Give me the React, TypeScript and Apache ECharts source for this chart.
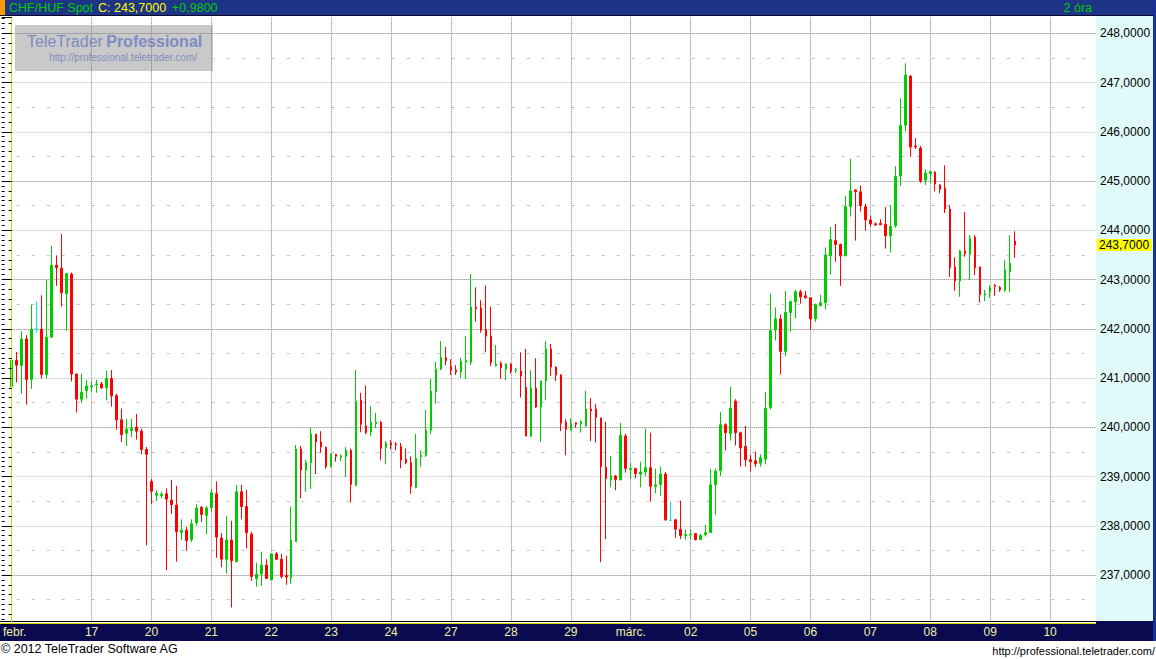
import React, { useEffect, useRef } from "react";
import * as echarts from "echarts";

// ---- data (2-hour candles, CHF/HUF spot) ----
const openPrices = [
  240.82, 241.36, 241.25, 241.79, 240.97, 242.0, 241.99, 241.07, 241.83, 243.29, 243.23, 242.71, 243.11, 241.08, 240.57, 240.74,
  240.82, 240.86, 240.88, 240.8, 240.99, 240.64, 240.15, 239.88, 239.93, 240.0, 239.92, 239.55, 238.9, 238.62, 238.61, 238.65,
  238.52, 238.42, 237.86, 237.91, 237.72, 238.06, 238.37, 238.21, 238.37, 238.65, 237.75, 237.32, 237.71, 237.27, 238.69, 238.39,
  237.83, 236.93, 237.02, 237.2, 236.9, 237.43, 237.32, 236.99, 236.94, 237.68, 239.56, 239.13, 239.28, 239.86, 239.7, 239.59,
  239.21, 239.45, 239.39, 239.41, 239.53, 238.82, 240.55, 240.03, 239.9, 240.07, 240.1, 239.59, 239.68, 239.66, 239.61, 239.35,
  239.28, 238.78, 239.4, 239.43, 239.94, 240.72, 241.18, 241.41, 241.23, 241.16, 241.12, 241.32, 241.32, 242.44, 242.42, 241.98,
  241.85, 241.25, 241.3, 241.18, 241.28, 241.15, 241.14, 240.81, 239.82, 240.79, 240.41, 240.94, 241.59, 241.22, 241.06, 240.1,
  239.94, 240.09, 240.07, 240.03, 240.37, 240.37, 240.19, 239.19, 238.93, 239.01, 238.93, 239.82, 239.14, 239.16, 239.05, 239.09,
  239.18, 238.8, 238.84, 239.05, 238.11, 238.12, 237.93, 237.8, 237.81, 237.84, 237.72, 237.82, 237.86, 238.83, 239.12, 240.05,
  239.87, 240.53, 239.89, 239.61, 239.34, 239.32, 239.27, 239.35, 240.4, 241.98, 242.2, 241.54, 242.33, 242.55, 242.75, 242.67,
  242.63, 242.2, 242.47, 242.53, 243.48, 243.79, 243.71, 243.48, 244.48, 244.82, 244.78, 244.48, 244.21, 244.13, 244.14, 244.12,
  243.89, 244.09, 245.1, 246.13, 247.13, 245.71, 245.67, 245.02, 245.15, 245.18, 244.92, 244.85, 244.43, 243.25, 242.97, 243.58,
  243.51, 243.86, 243.25, 242.69, 242.75, 242.88, 242.84, 242.78, 243.16, 243.78,
];
const closePrices = [
  241.36, 241.26, 241.79, 240.97, 241.99, 242.0, 241.07, 241.83, 243.29, 243.24, 242.73, 243.12, 241.08, 240.57, 240.71, 240.84,
  240.84, 240.88, 240.8, 240.99, 240.64, 240.15, 239.85, 239.96, 239.98, 239.92, 239.55, 239.45, 238.7, 238.66, 238.64, 238.54,
  238.43, 237.88, 237.91, 237.7, 238.04, 238.36, 238.23, 238.36, 238.67, 237.77, 237.32, 237.71, 237.29, 238.69, 238.39, 237.86,
  236.97, 237.02, 237.2, 236.93, 237.43, 237.32, 236.97, 236.96, 237.71, 239.56, 239.13, 239.28, 239.86, 239.7, 239.6, 239.2,
  239.45, 239.41, 239.42, 239.53, 238.84, 240.53, 240.06, 239.89, 240.1, 240.1, 239.57, 239.68, 239.64, 239.64, 239.33, 239.28,
  238.8, 239.37, 239.43, 239.94, 240.73, 241.18, 241.42, 241.35, 241.16, 241.12, 241.34, 241.36, 242.44, 242.41, 241.97, 241.85,
  241.31, 241.28, 241.21, 241.28, 241.14, 241.17, 241.04, 239.82, 240.79, 240.41, 240.94, 241.59, 241.22, 241.06, 240.08, 239.96,
  240.06, 240.06, 240.11, 240.37, 240.33, 240.2, 239.2, 238.96, 239.01, 238.94, 239.84, 239.16, 239.16, 239.06, 239.09, 239.18,
  238.8, 238.83, 239.05, 238.12, 238.11, 237.93, 237.8, 237.82, 237.82, 237.72, 237.8, 237.86, 238.83, 239.11, 240.05, 239.89,
  240.39, 239.89, 239.58, 239.34, 239.3, 239.26, 239.38, 240.38, 241.96, 242.2, 241.54, 242.33, 242.55, 242.75, 242.65, 242.63,
  242.2, 242.49, 242.53, 243.5, 243.81, 243.71, 243.48, 244.48, 244.8, 244.78, 244.5, 244.21, 244.13, 244.11, 244.11, 243.89,
  244.08, 245.1, 246.13, 247.15, 245.69, 245.69, 245.0, 245.16, 245.19, 244.94, 244.83, 244.43, 243.24, 242.97, 243.58, 243.53,
  243.84, 243.24, 242.69, 242.71, 242.83, 242.86, 242.79, 243.19, 243.33, 243.7,
];
const lowPrices = [
  240.3, 240.91, 240.68, 240.46, 240.78, 241.92, 240.99, 240.99, 241.81, 242.87, 242.45, 241.96, 240.93, 240.3, 240.49, 240.58,
  240.72, 240.7, 240.78, 240.55, 240.42, 239.95, 239.7, 239.62, 239.8, 239.75, 239.45, 237.6, 238.45, 238.5, 238.56, 237.1,
  238.24, 237.27, 237.71, 237.49, 237.67, 238.0, 238.08, 237.83, 238.29, 237.35, 237.16, 237.03, 236.34, 237.27, 238.13, 237.54,
  236.88, 236.76, 236.78, 236.93, 236.9, 237.3, 236.93, 236.8, 236.82, 237.67, 238.56, 238.69, 238.75, 239.05, 239.48, 239.16,
  239.18, 239.3, 239.31, 238.99, 238.47, 238.8, 239.9, 239.86, 239.82, 239.98, 239.33, 239.25, 239.55, 239.53, 239.17, 239.25,
  238.65, 238.76, 239.2, 239.4, 239.86, 240.48, 241.16, 241.26, 241.06, 241.06, 241.0, 240.98, 241.26, 242.15, 241.92, 241.52,
  241.24, 241.23, 240.98, 240.96, 241.09, 241.1, 240.6, 239.82, 239.8, 240.39, 239.7, 240.55, 241.04, 240.94, 239.92, 239.43,
  239.94, 239.99, 239.89, 240.01, 239.72, 239.69, 237.26, 237.73, 238.78, 238.72, 238.93, 239.08, 238.95, 238.96, 238.78, 239.01,
  238.49, 238.66, 238.61, 238.1, 238.11, 237.76, 237.73, 237.72, 237.72, 237.7, 237.72, 237.78, 237.86, 238.22, 239.01, 239.53,
  239.73, 239.63, 239.2, 239.2, 239.1, 239.19, 239.2, 239.25, 240.36, 241.76, 241.07, 241.44, 241.94, 242.21, 242.51, 242.61,
  241.98, 242.14, 242.45, 242.39, 243.1, 243.36, 242.87, 243.48, 244.28, 243.79, 244.38, 243.99, 244.07, 244.09, 244.11, 243.63,
  243.55, 244.05, 244.9, 246.01, 245.49, 245.65, 244.96, 244.92, 244.96, 244.79, 244.75, 244.35, 243.05, 242.77, 242.65, 243.46,
  242.99, 243.09, 242.53, 242.56, 242.63, 242.67, 242.75, 242.75, 242.75, 243.44,
];
const highPrices = [
  241.41, 241.53, 241.95, 241.87, 242.49, 242.55, 242.68, 242.99, 243.68, 243.49, 243.92, 243.12, 243.14, 241.09, 241.09, 240.96,
  240.93, 240.96, 240.92, 241.15, 241.16, 240.68, 240.38, 240.17, 240.17, 240.27, 239.97, 239.6, 238.95, 238.72, 238.69, 238.76,
  238.93, 238.81, 238.13, 237.98, 238.13, 238.44, 238.4, 238.4, 238.75, 238.9, 237.85, 238.19, 238.1, 238.83, 238.83, 238.73,
  237.88, 237.25, 237.47, 237.32, 237.44, 237.47, 237.43, 237.39, 238.39, 239.64, 239.62, 239.34, 239.99, 239.86, 239.92, 239.61,
  239.47, 239.46, 239.45, 239.6, 239.57, 241.16, 240.7, 240.85, 240.43, 240.29, 240.13, 239.72, 239.74, 239.7, 239.68, 239.57,
  239.41, 239.86, 239.53, 240.35, 240.98, 241.33, 241.75, 241.63, 241.38, 241.26, 241.41, 241.85, 243.11, 242.84, 242.58, 242.88,
  242.45, 241.67, 241.34, 241.3, 241.3, 241.21, 241.52, 241.59, 241.16, 241.4, 240.94, 241.75, 241.69, 241.24, 241.08, 240.16,
  240.18, 240.1, 240.14, 240.74, 240.59, 240.47, 240.19, 240.11, 239.42, 239.03, 240.09, 239.87, 239.28, 239.18, 239.3, 239.97,
  239.89, 239.16, 239.2, 239.09, 238.49, 238.14, 238.51, 237.92, 237.93, 237.85, 237.84, 238.02, 239.16, 239.16, 240.31, 240.08,
  240.82, 240.57, 239.91, 240.03, 239.44, 239.51, 239.45, 240.72, 242.71, 242.43, 242.29, 242.77, 242.57, 242.79, 242.79, 242.77,
  242.63, 242.51, 242.69, 243.65, 244.07, 244.13, 243.73, 244.7, 245.45, 244.82, 244.91, 244.54, 244.3, 244.16, 244.22, 244.47,
  244.51, 245.3, 246.68, 247.39, 247.15, 245.87, 245.71, 245.24, 245.21, 245.2, 244.94, 245.32, 244.51, 243.45, 243.6, 244.37,
  243.9, 243.9, 243.27, 242.79, 242.88, 242.91, 242.87, 243.39, 243.9, 243.98,
];

// day boundaries (candle index) and their labels
const dayTickIndex = [0.6, 16, 28, 40, 52, 64, 76, 88, 100, 112, 124, 136, 148, 160, 172, 184, 196, 208];
const dayTickLabels = ["febr.", "17", "20", "21", "22", "23", "24", "27", "28", "29", "márc.", "02", "05", "06", "07", "08", "09", "10"];

const priceMin = 236;
const priceMax = 248.33;
const darkGridLevels = [237, 240, 242, 243, 245, 248];
const halfGridLevels = [236.5, 237.5, 238.5, 239.5, 240.5, 241.5, 242.5, 243.5, 244.5, 245.5, 246.5, 247.5];
const lastPrice = 243.7;

const headerSymbol = "CHF/HUF Spot";
const headerClose = "C: 243,7000";
const headerChange = "+0,9800";
const headerPeriod = "2 óra";
const copyrightText = "© 2012 TeleTrader Software AG";
const urlText = "http://professional.teletrader.com/";

const FONT = '"Liberation Sans", Arial, sans-serif';
const GREEN = "#00cc00";
const RED = "#ff0000";
const CYAN = "#00e6e6";
const WATERMARK = "#7f8cc2";

export default function App() {
  const ref = useRef<HTMLDivElement>(null);

  useEffect(() => {
    if (!ref.current) return;
    const chart = echarts.init(ref.current, undefined, { renderer: "svg" });
    const fmt = (v: number) => v.toFixed(4).replace(".", ",");

    const candleData = openPrices.map((o, i) => {
      const v = [i, o, closePrices[i], lowPrices[i], highPrices[i]];
      if (o === closePrices[i]) {
        return {
          value: v,
          itemStyle: { color: CYAN, color0: CYAN, borderColor: CYAN, borderColor0: CYAN, borderColorDoji: CYAN },
        };
      }
      return v;
    });

    const splitColors: string[] = [];
    for (let v = priceMin; v <= 248; v += 1) {
      if (v === priceMin) splitColors.push("rgba(0,0,0,0)");
      else splitColors.push(darkGridLevels.includes(v) ? "#7c7c7c" : "#bcbcbc");
    }
    splitColors.push("rgba(0,0,0,0)");

    const gridMarkData: any[] = [
      ...dayTickIndex
        .filter((d) => d >= 1)
        .map((d) => ({ xAxis: d, lineStyle: { color: "#808080", type: [1, 1], width: 1 } })),
      ...halfGridLevels.map((v) => ({ yAxis: v, lineStyle: { color: "#c4c4c4", type: [3, 12], width: 1 } })),
    ];

    const yCommon = { type: "value", min: priceMin, max: priceMax, interval: 1 };

    const option: any = {
      animation: false,
      backgroundColor: "#ffffff",
      grid: { left: 0, right: 60, top: 17, bottom: 34.75, containLabel: false },
      xAxis: {
        type: "value",
        min: -2,
        max: 217.2,
        z: 11,
        axisLine: { show: false },
        axisTick: { show: false },
        splitLine: { show: false },
        axisLabel: {
          customValues: dayTickIndex,
          formatter: (v: number) => {
            const k = dayTickIndex.indexOf(v);
            return k >= 0 ? dayTickLabels[k] : "";
          },
          color: "#f2f2a0",
          fontFamily: FONT,
          fontSize: 12,
          margin: 2,
          hideOverlap: false,
        },
      },
      yAxis: [
        {
          ...yCommon,
          position: "right",
          z: 11,
          axisLine: { show: true, lineStyle: { color: "#e2d200", width: 1 } },
          axisTick: { show: true, inside: true, length: 5, lineStyle: { color: "#000" } },
          minorTick: { show: true, splitNumber: 5, length: 3, lineStyle: { color: "#000" } },
          splitLine: { show: false },
          axisLabel: {
            color: "#000",
            fontFamily: FONT,
            fontSize: 12,
            margin: 4,
            formatter: (v: number) =>
              Math.abs(v - Math.round(v)) < 1e-6 && v > priceMin + 0.5 ? fmt(v) : "",
          },
        },
        {
          ...yCommon,
          position: "left",
          z: 11,
          axisLine: { show: false },
          axisTick: { show: true, inside: true, length: 5, lineStyle: { color: "#000" } },
          minorTick: { show: true, splitNumber: 10, length: 3, lineStyle: { color: "#000" } },
          axisLabel: { show: false },
          splitLine: { show: false },
        },
        {
          ...yCommon,
          position: "left",
          z: 0.8,
          axisLine: { show: false },
          axisTick: { show: false },
          axisLabel: { show: false },
          splitLine: { show: true, lineStyle: { color: splitColors, type: [1, 1], width: 1 } },
        },
        {
          ...yCommon,
          position: "right",
          z: 13,
          axisLine: { show: false },
          axisTick: { show: false },
          splitLine: { show: false },
          axisLabel: {
            customValues: [lastPrice],
            formatter: (v: number) => fmt(v),
            backgroundColor: "#ffff00",
            color: "#000",
            fontFamily: FONT,
            fontSize: 12,
            lineHeight: 12,
            padding: [0, 3, 0, 2],
            margin: 1,
          },
        },
      ],
      series: [
        {
          type: "line",
          data: [[0, 240]],
          symbol: "none",
          lineStyle: { opacity: 0 },
          silent: true,
          z: 1,
          markLine: {
            z: 1,
            silent: true,
            symbol: "none",
            animation: false,
            label: { show: false },
            data: gridMarkData,
          },
        },
        {
          type: "candlestick",
          z: 3,
          barWidth: 2,
          silent: true,
          itemStyle: {
            color: GREEN,
            color0: RED,
            borderColor: GREEN,
            borderColor0: RED,
            borderColorDoji: CYAN,
            borderWidth: 1,
          },
          data: candleData,
        },
      ],
      graphic: [
        // watermark
        { type: "rect", z: 0.5, silent: true, shape: { x: 15, y: 25, width: 198, height: 46 }, style: { fill: "#c9c9c9" } },
        {
          type: "text",
          z: 0.6,
          silent: true,
          x: 27,
          y: 41,
          style: {
            text: "{a|TeleTrader} {b|Professional}",
            fill: WATERMARK,
            verticalAlign: "middle",
            textVerticalAlign: "middle",
            rich: {
              a: { fontFamily: FONT, fontSize: 16, fill: WATERMARK },
              b: { fontFamily: FONT, fontSize: 16, fontWeight: "bold", fill: WATERMARK },
            },
          },
        },
        {
          type: "text",
          z: 0.6,
          silent: true,
          x: 197,
          y: 57,
          style: {
            text: urlText,
            fill: WATERMARK,
            font: `10px ${FONT}`,
            align: "right",
            textAlign: "right",
            verticalAlign: "middle",
            textVerticalAlign: "middle",
          },
        },
        // right price panel
        { type: "rect", z: 10, silent: true, shape: { x: 1096, y: 16, width: 58, height: 606 }, style: { fill: "#e0fafa" } },
        // header
        { type: "rect", z: 10, silent: true, shape: { x: 0, y: 0, width: 1156, height: 15 }, style: { fill: "#1e3486" } },
        { type: "rect", z: 10, silent: true, shape: { x: 0, y: 15, width: 1156, height: 1 }, style: { fill: "#0a0a30" } },
        { type: "rect", z: 10, silent: true, shape: { x: 0, y: 0, width: 5, height: 15 }, style: { fill: "#ff9a00" } },
        {
          type: "text", z: 11, silent: true, x: 9, y: 8,
          style: { text: headerSymbol, fill: GREEN, font: `12.5px ${FONT}`, verticalAlign: "middle", textVerticalAlign: "middle" },
        },
        {
          type: "text", z: 11, silent: true, x: 98, y: 8,
          style: { text: headerClose, fill: "#ffff00", font: `12.5px ${FONT}`, verticalAlign: "middle", textVerticalAlign: "middle" },
        },
        {
          type: "text", z: 11, silent: true, x: 172, y: 8,
          style: { text: headerChange, fill: GREEN, font: `12.5px ${FONT}`, verticalAlign: "middle", textVerticalAlign: "middle" },
        },
        {
          type: "text", z: 11, silent: true, x: 1092, y: 8,
          style: {
            text: headerPeriod, fill: GREEN, font: `12.5px ${FONT}`,
            align: "right", textAlign: "right", verticalAlign: "middle", textVerticalAlign: "middle",
          },
        },
        // bottom date band
        { type: "rect", z: 10, silent: true, shape: { x: 0, y: 621, width: 1096, height: 1 }, style: { fill: "#000000" } },
        { type: "rect", z: 10, silent: true, shape: { x: 0, y: 622, width: 1096, height: 1 }, style: { fill: "#ffffff" } },
        { type: "rect", z: 10, silent: true, shape: { x: 0, y: 623, width: 1096, height: 1 }, style: { fill: "#d8d800" } },
        { type: "rect", z: 10, silent: true, shape: { x: 0, y: 624, width: 1156, height: 17 }, style: { fill: "#0a0a50" } },
        { type: "rect", z: 10, silent: true, shape: { x: 1096, y: 621, width: 60, height: 3 }, style: { fill: "#0a0a50" } },
        // right frame
        { type: "rect", z: 10, silent: true, shape: { x: 1153, y: 0, width: 3, height: 641 }, style: { fill: "#1c2e98" } },
        // footer
        { type: "rect", z: 10, silent: true, shape: { x: 0, y: 641, width: 1156, height: 18 }, style: { fill: "#ffffff" } },
        {
          type: "text", z: 11, silent: true, x: 1, y: 649,
          style: { text: copyrightText, fill: "#000", font: `12.5px ${FONT}`, verticalAlign: "middle", textVerticalAlign: "middle" },
        },
        {
          type: "text", z: 11, silent: true, x: 1155, y: 651,
          style: {
            text: urlText, fill: "#000", font: `11px ${FONT}`,
            align: "right", textAlign: "right", verticalAlign: "middle", textVerticalAlign: "middle",
          },
        },
      ],
    };

    chart.setOption(option);
    return () => chart.dispose();
  }, []);

  return <div ref={ref} style={{ position: "fixed", left: 0, top: 0, width: 1156, height: 659 }} />;
}
